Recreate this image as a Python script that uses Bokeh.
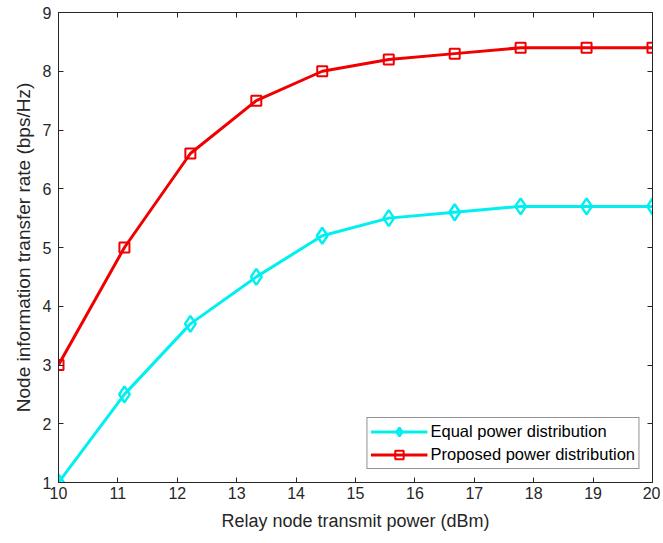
from bokeh.plotting import figure
from bokeh.models import LinearAxis, Range1d, Legend, LegendItem, FixedTicker
from bokeh.embed import file_html
from bokeh.resources import INLINE

x_power = [10.0, 11.11, 12.22, 13.33, 14.44, 15.56, 16.67, 17.78, 18.89, 20.0]
equal_rate = [1.0, 2.5, 3.7, 4.5, 5.2, 5.5, 5.6, 5.7, 5.7, 5.7]
proposed_rate = [3.0, 5.0, 6.6, 7.5, 8.0, 8.2, 8.3, 8.4, 8.4, 8.4]
x_ticks = [10, 11, 12, 13, 14, 15, 16, 17, 18, 19, 20]
y_ticks = [1, 2, 3, 4, 5, 6, 7, 8, 9]

FONT = "Liberation Sans"
TXT = "#262626"

p = figure(width=660, height=540, output_backend="svg", toolbar_location=None,
           x_range=Range1d(10, 20), y_range=Range1d(1, 9),
           min_border_left=58, min_border_right=8, min_border_top=12, min_border_bottom=58)
p.xgrid.visible = False
p.ygrid.visible = False
p.outline_line_color = TXT
p.outline_line_width = 1
p.background_fill_color = "white"
p.border_fill_color = "white"

for ax in (p.xaxis[0], p.yaxis[0]):
    ax.major_tick_in = 5
    ax.major_tick_out = 0
    ax.minor_tick_line_color = None
    ax.axis_line_color = TXT
    ax.major_tick_line_color = TXT
    ax.major_label_text_font = FONT
    ax.major_label_text_font_size = "16px"
    ax.major_label_text_color = TXT
    ax.axis_label_text_font = FONT
    ax.axis_label_text_font_size = "18px"
    ax.axis_label_text_color = TXT
    ax.axis_label_text_font_style = "normal"

p.yaxis[0].axis_label_text_font_size = "19px"
p.xaxis[0].ticker = FixedTicker(ticks=x_ticks)
p.yaxis[0].ticker = FixedTicker(ticks=y_ticks)
p.xaxis[0].axis_label = "Relay node transmit power (dBm)"
p.yaxis[0].axis_label = "Node information transfer rate (bps/Hz)"
p.xaxis[0].major_label_standoff = 4
p.yaxis[0].major_label_standoff = 7
p.xaxis[0].axis_label_standoff = 9
p.yaxis[0].axis_label_standoff = 6

top = LinearAxis(ticker=FixedTicker(ticks=x_ticks),
                 major_label_overrides={t: "" for t in x_ticks}, major_label_standoff=0,
                 major_tick_in=5, major_tick_out=0, minor_tick_line_color=None,
                 axis_line_color=TXT, major_tick_line_color=TXT)
right = LinearAxis(ticker=FixedTicker(ticks=y_ticks),
                   major_label_overrides={t: "" for t in y_ticks}, major_label_standoff=0,
                   major_tick_in=5, major_tick_out=0, minor_tick_line_color=None,
                   axis_line_color=TXT, major_tick_line_color=TXT)
p.add_layout(top, "above")
p.add_layout(right, "right")

cyan = "#00F0F0"
red = "#F00000"
l1 = p.line(x_power, equal_rate, line_color=cyan, line_width=3)
m1 = p.scatter(x_power, equal_rate, marker="diamond", size=16, line_color=cyan,
               line_width=2.5, fill_alpha=0)
l2 = p.line(x_power, proposed_rate, line_color=red, line_width=3)
m2 = p.scatter(x_power, proposed_rate, marker="square", size=10, line_color=red,
               line_width=2, fill_alpha=0)

legend = Legend(items=[LegendItem(label="Equal power distribution", renderers=[l1, m1]),
                       LegendItem(label="Proposed power distribution", renderers=[l2, m2])],
                location="bottom_right")
legend.label_text_font = FONT
legend.label_text_font_size = "16.5px"
legend.label_text_color = "black"
legend.border_line_color = TXT
legend.border_line_width = 1
legend.glyph_width = 57
legend.glyph_height = 21
legend.label_height = 21
legend.spacing = 2
legend.padding = 3
legend.margin = 13
legend.label_standoff = 3
p.add_layout(legend)

open("out.html", "w").write(file_html(p, INLINE))
